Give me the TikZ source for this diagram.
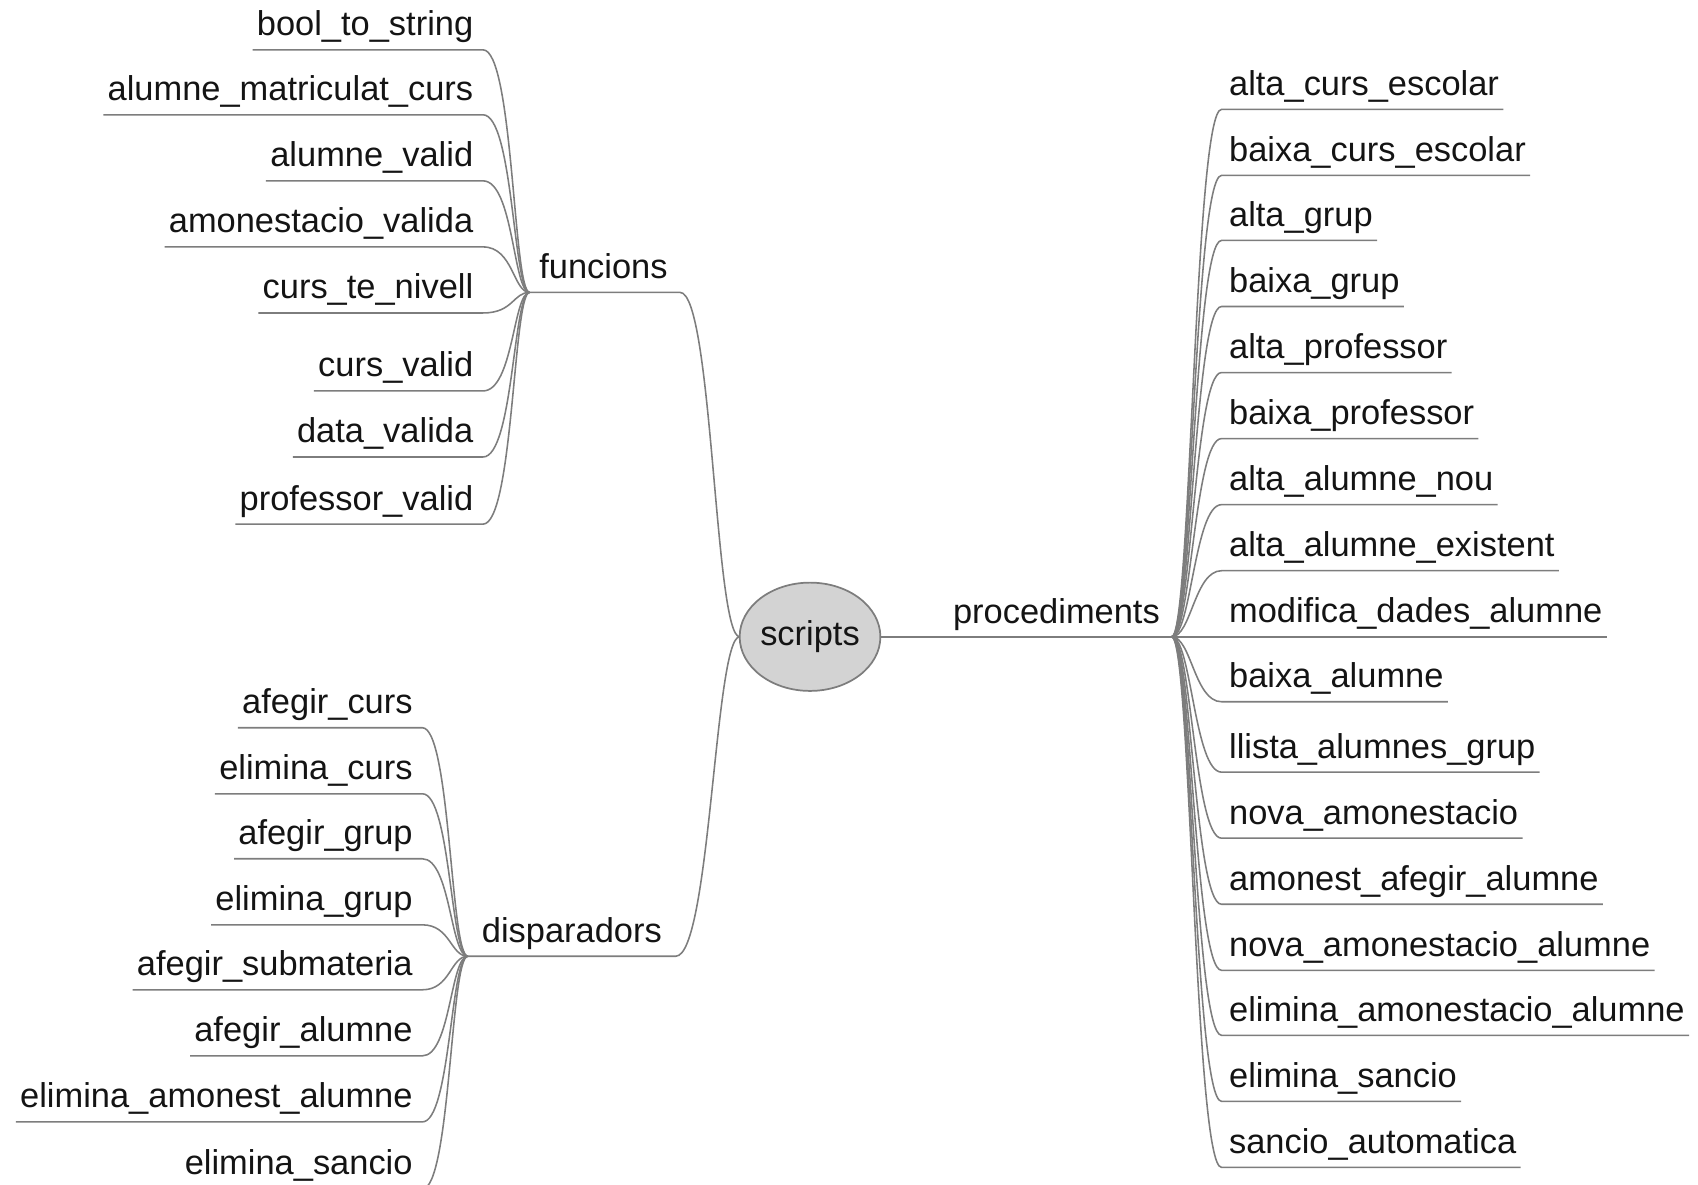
\documentclass[tikz,border=0pt]{standalone}
\usepackage{fontspec}
\setmainfont{Liberation Sans}
\usetikzlibrary{shapes.geometric}
\definecolor{edgegray}{RGB}{125,125,125}
\definecolor{nodefill}{RGB}{211,211,211}
\definecolor{txt}{RGB}{20,20,20}
\begin{document}
\begin{tikzpicture}[x=0.5pt,y=-0.5pt,
  lbl/.style={font=\fontsize{15.9}{18}\selectfont, text=txt, inner sep=0pt, outer sep=0pt},
  edge/.style={draw=edgegray, line width=0.72pt},
  rootnode/.style={lbl, ellipse, draw=edgegray, fill=nodefill, line width=0.8pt,
    minimum width=61pt, minimum height=50pt}
]
\useasboundingbox (0,0) rectangle (1568,1094);
\clip (0,0) rectangle (1568,1094);

% root
\node[rootnode] (scripts) at (748,588) {scripts};

% hubs
\coordinate (fhub) at (489,270);
\coordinate (fend) at (628,270);
\coordinate (dhub) at (432,883);
\coordinate (dend) at (624,883);
\coordinate (phub) at (1082,588);

% main branches
\node[lbl, anchor=base west] (funcions) at (498,257.5) {funcions};
\node[lbl, anchor=base west] (disparadors) at (445,870.5) {disparadors};
\node[lbl, anchor=base east] (procediments) at (1071,575.5) {procediments};

\draw[edge] (scripts.west) .. controls (660,588) and (658,270) .. (fend) -- (fhub);
\draw[edge] (scripts.west) .. controls (660,588) and (656,883) .. (dend) -- (dhub);
\draw[edge] (scripts.east) -- (phub);

% funcions children
\foreach \name/\y [count=\i] in {
  bool\_to\_string/46,
  alumne\_matriculat\_curs/106,
  alumne\_valid/167,
  amonestacio\_valida/228,
  curs\_te\_nivell/289,
  curs\_valid/361,
  data\_valida/422,
  professor\_valid/484}{
  \node[lbl, anchor=base east] (f\i) at (437,\y-13) {\name};
  \draw[edge] (fhub) .. controls (474,270) and (474,\y) .. (446,\y) -- (f\i.west |- 446,\y) -- ++(-4,0);
}

% disparadors children
\foreach \name/\y [count=\i] in {
  afegir\_curs/672,
  elimina\_curs/733,
  afegir\_grup/793,
  elimina\_grup/854,
  afegir\_submateria/914,
  afegir\_alumne/975,
  elimina\_amonest\_alumne/1036,
  elimina\_sancio/1098}{
  \node[lbl, anchor=base east] (d\i) at (381,\y-13) {\name};
  \draw[edge] (dhub) .. controls (416,883) and (416,\y) .. (390,\y) -- (d\i.west |- 390,\y) -- ++(-4,0);
}

% procediments children
\foreach \name/\y [count=\i] in {
  alta\_curs\_escolar/101,
  baixa\_curs\_escolar/162,
  alta\_grup/222,
  baixa\_grup/283,
  alta\_professor/344,
  baixa\_professor/405,
  alta\_alumne\_nou/466,
  alta\_alumne\_existent/527,
  modifica\_dades\_alumne/588,
  baixa\_alumne/648,
  llista\_alumnes\_grup/713,
  nova\_amonestacio/774,
  amonest\_afegir\_alumne/835,
  nova\_amonestacio\_alumne/896,
  elimina\_amonestacio\_alumne/956,
  elimina\_sancio/1017,
  sancio\_automatica/1078}{
  \node[lbl, anchor=base west] (p\i) at (1135,\y-13) {\name};
  \draw[edge] (phub) .. controls (1100,588) and (1103,\y) .. (1128,\y) -- (p\i.east |- 1128,\y) -- ++(4,0);
}
\end{tikzpicture}
\end{document}
